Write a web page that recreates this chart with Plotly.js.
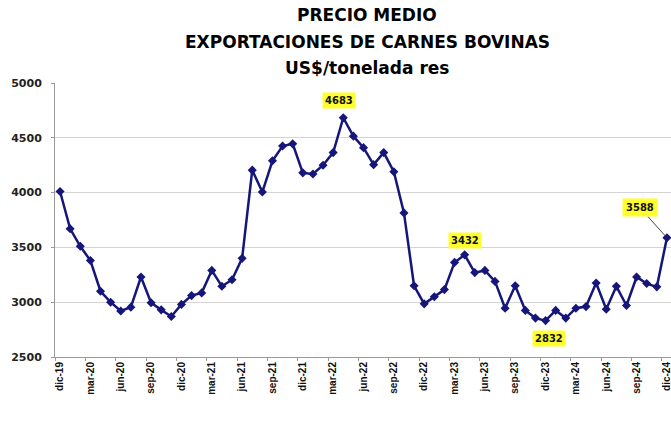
<!DOCTYPE html>
<html>
<head>
<meta charset="utf-8">
<script src="https://cdn.plot.ly/plotly-3.0.1.min.js"></script>
<style>
  html, body { margin: 0; padding: 0; background: #fff; overflow: hidden; }
  #chart { width: 672px; height: 423px; }
</style>
</head>
<body>
<div id="chart"></div>
<script>
const months = [
  'dic-19',
  'ene-20','feb-20','mar-20','abr-20','may-20','jun-20','jul-20','ago-20','sep-20','oct-20','nov-20','dic-20',
  'ene-21','feb-21','mar-21','abr-21','may-21','jun-21','jul-21','ago-21','sep-21','oct-21','nov-21','dic-21',
  'ene-22','feb-22','mar-22','abr-22','may-22','jun-22','jul-22','ago-22','sep-22','oct-22','nov-22','dic-22',
  'ene-23','feb-23','mar-23','abr-23','may-23','jun-23','jul-23','ago-23','sep-23','oct-23','nov-23','dic-23',
  'ene-24','feb-24','mar-24','abr-24','may-24','jun-24','jul-24','ago-24','sep-24','oct-24','nov-24','dic-24'
];
const precio = [
  4010,
  3670, 3510, 3380, 3100, 3000, 2920, 2955, 3230, 2995, 2930, 2870, 2980,
  3060, 3085, 3290, 3145, 3205, 3400, 4205, 4005, 4290, 4425, 4445, 4180,
  4170, 4250, 4365, 4683, 4515, 4410, 4255, 4365, 4190, 3815, 3150, 2985,
  3050, 3115, 3363, 3432, 3270, 3290, 3190, 2945, 3150, 2925, 2855, 2832,
  2925, 2855, 2945, 2960, 3175, 2935, 3145, 2970, 3230, 3170, 3140, 3588
];
const titleLines = ['PRECIO MEDIO', 'EXPORTACIONES DE CARNES BOVINAS', 'US$/tonelada res'];
const labelMonths = ['abr-22', 'abr-23', 'dic-23', 'dic-24'];
const yTicks = [2500, 3000, 3500, 4000, 4500, 5000];

const lineColor = '#16167a';
const labelFont = { family: 'DejaVu Sans', size: 10, color: '#111', weight: 'bold' };

const titleY = [1.248, 1.151, 1.055];
const annotations = titleLines.map((t, i) => ({
  text: t, xref: 'paper', yref: 'paper', x: 0.506, y: titleY[i],
  xanchor: 'center', yanchor: 'middle', showarrow: false,
  font: { family: 'DejaVu Sans', size: 17, color: '#000', weight: 'bold' }
}));

// value labels
const labelPlacement = {
  'abr-22': { xshift: -4, yshift: 17 },
  'abr-23': { xshift: 0, yshift: 14 },
  'dic-23': { xshift: 3, yshift: -18 }
};
labelMonths.forEach(m => {
  const idx = months.indexOf(m);
  const v = precio[idx];
  if (m === 'dic-24') {
    annotations.push({
      text: String(v), x: m, y: v, xref: 'x', yref: 'y',
      showarrow: true, arrowhead: 0, arrowwidth: 1, arrowcolor: '#444',
      ax: -27, ay: -30, standoff: 2,
      bgcolor: '#ffff2e', borderpad: 3, font: labelFont
    });
  } else {
    const p = labelPlacement[m];
    annotations.push({
      text: String(v), x: m, y: v, xref: 'x', yref: 'y',
      showarrow: false, xshift: p.xshift, yshift: p.yshift,
      bgcolor: '#ffff2e', borderpad: 2, font: labelFont
    });
  }
});

const trace = {
  type: 'scatter', mode: 'lines+markers',
  x: months, y: precio,
  line: { color: lineColor, width: 2.5 },
  marker: { symbol: 'diamond', size: 7, color: lineColor },
  hoverinfo: 'x+y'
};

const layout = {
  width: 672, height: 423,
  margin: { l: 55, r: 0, t: 83, b: 66 },
  paper_bgcolor: '#fff', plot_bgcolor: '#fff',
  showlegend: false,
  xaxis: {
    type: 'category',
    range: [-0.5, 60.5],
    dtick: 3, tick0: 0,
    tickson: 'boundaries',
    tickangle: -90,
    ticks: 'outside', ticklen: 3, tickcolor: '#999',
    showgrid: false,
    showline: true, linecolor: '#999', linewidth: 1,
    tickfont: { family: 'Liberation Sans', size: 10, color: '#111', weight: 'bold' },
    fixedrange: true
  },
  yaxis: {
    range: [2500, 5000],
    tickvals: yTicks,
    ticktext: yTicks.map(String),
    ticks: 'outside', ticklen: 3, tickcolor: '#999',
    ticklabelstandoff: 7,
    showgrid: true, gridcolor: '#d4d4d4', gridwidth: 1,
    showline: true, linecolor: '#999', linewidth: 1,
    zeroline: false,
    tickfont: { family: 'DejaVu Sans', size: 11, color: '#222', weight: 'bold' },
    fixedrange: true
  },
  annotations: annotations
};

Plotly.newPlot('chart', [trace], layout, { displayModeBar: false, staticPlot: true });
</script>
</body>
</html>
